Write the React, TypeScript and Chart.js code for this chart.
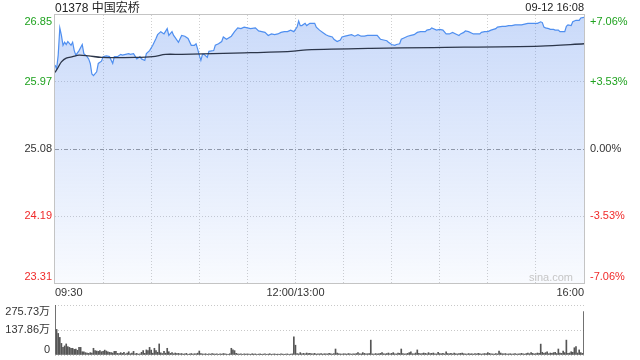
import React, { useEffect, useRef } from "react";
import { Chart, registerables } from "chart.js";

Chart.register(...registerables);

const FONT = '"Liberation Sans", Arial, "Noto Sans CJK SC", sans-serif';
const GREEN = "#1fa21f";
const RED = "#f02a2a";
const BLACK = "#333333";

const TITLE = "01378 中国宏桥";
const STAMP = "09-12 16:08";
const WATERMARK = "sina.com";

const prevClose = 25.08;
const priceTicks = [26.85, 25.97, 25.08, 24.19, 23.31];
const pctTicks = ["+7.06%", "+3.53%", "0.00%", "-3.53%", "-7.06%"];
const gridMinutes = [30, 60, 90, 120, 150, 180, 210, 240, 270, 300];
const timeTickMinutes = [0, 150, 330];
const timeTickLabels = ["09:30", "12:00/13:00", "16:00"];
const volTicks = [275.73, 137.86, 0];
const volTickLabels = ["275.73万", "137.86万", "0"];

// minutes after 09:30 (lunch break removed)
const priceMinutes = [
  0, 1, 2, 3, 4, 5, 6, 7, 8, 10,
  11, 12, 13, 15, 17, 18, 20, 21, 22, 23,
  24, 26, 27, 29, 30, 32, 34, 36, 37, 39,
  41, 42, 44, 46, 47, 49, 51, 53, 54, 56,
  57, 59, 61, 63, 64, 66, 68, 70, 71, 73,
  74, 75, 77, 79, 81, 83, 85, 87, 88, 89,
  90, 91, 92, 93, 95, 96, 99, 100, 102, 104,
  105, 107, 110, 112, 114, 116, 118, 120, 122, 125,
  127, 129, 131, 133, 135, 137, 139, 141, 143, 145,
  147, 149, 151, 152, 153, 154, 156, 157, 159, 162,
  163, 165, 167, 169, 171, 173, 174, 176, 178, 179,
  181, 183, 185, 187, 189, 191, 193, 195, 197, 199,
  201, 203, 205, 207, 208, 210, 212, 213, 215, 216,
  218, 220, 222, 224, 226, 228, 229, 231, 232, 234,
  235, 238, 240, 242, 244, 246, 248, 250, 252, 253,
  255, 256, 258, 261, 263, 265, 266, 268, 270, 272,
  275, 276, 279, 281, 283, 285, 287, 289, 291, 293,
  295, 297, 299, 301, 303, 304, 305, 306, 308, 309,
  311, 312, 314, 315, 317, 318, 319, 320, 322, 323,
  325, 327, 328, 330,
];
const prices = [
  26.19, 26.14, 26.32, 26.68, 26.58, 26.45, 26.49, 26.46, 26.50, 26.45,
  26.49, 26.38, 26.32, 26.38, 26.46, 26.34, 26.30, 26.27, 26.21, 26.07,
  26.05, 26.10, 26.21, 26.24, 26.30, 26.31, 26.30, 26.21, 26.30, 26.30,
  26.33, 26.32, 26.33, 26.34, 26.33, 26.34, 26.27, 26.30, 26.27, 26.25,
  26.34, 26.38, 26.45, 26.54, 26.59, 26.63, 26.60, 26.67, 26.58, 26.63,
  26.58, 26.55, 26.49, 26.58, 26.57, 26.54, 26.45, 26.45, 26.47, 26.40,
  26.32, 26.25, 26.33, 26.33, 26.29, 26.37, 26.38, 26.45, 26.47, 26.50,
  26.56, 26.53, 26.57, 26.63, 26.68, 26.67, 26.69, 26.68, 26.67, 26.68,
  26.64, 26.63, 26.62, 26.58, 26.60, 26.59, 26.60, 26.62, 26.63, 26.63,
  26.65, 26.63, 26.69, 26.77, 26.71, 26.71, 26.74, 26.71, 26.74, 26.74,
  26.69, 26.65, 26.62, 26.59, 26.57, 26.56, 26.53, 26.50, 26.52, 26.56,
  26.57, 26.58, 26.59, 26.57, 26.59, 26.57, 26.57, 26.58, 26.58, 26.58,
  26.58, 26.53, 26.52, 26.51, 26.49, 26.46, 26.45, 26.46, 26.47, 26.53,
  26.55, 26.57, 26.58, 26.59, 26.62, 26.63, 26.63, 26.63, 26.65, 26.66,
  26.68, 26.65, 26.66, 26.65, 26.60, 26.60, 26.62, 26.60, 26.58, 26.60,
  26.62, 26.64, 26.63, 26.60, 26.60, 26.60, 26.62, 26.63, 26.63, 26.65,
  26.67, 26.69, 26.70, 26.70, 26.71, 26.71, 26.72, 26.72, 26.72, 26.73,
  26.74, 26.74, 26.74, 26.74, 26.76, 26.75, 26.69, 26.68, 26.67, 26.66,
  26.66, 26.65, 26.65, 26.63, 26.63, 26.63, 26.70, 26.72, 26.71, 26.76,
  26.78, 26.78, 26.81, 26.82,
];

const avgMinutes = [0, 2, 4, 7, 11, 15, 21, 29, 50, 61, 69, 79, 118, 147, 157, 197, 236, 303, 330];
const avgPrices = [
  26.09, 26.16, 26.23, 26.28, 26.30, 26.32, 26.31, 26.29, 26.29, 26.30,
  26.33, 26.33, 26.35, 26.37, 26.39, 26.41, 26.42, 26.44, 26.47,
];

// volume per minute, in 万 shares (index = minute after 09:30)
const volumes = [
  275.73, 141, 119, 97, 64, 42, 50, 61, 46, 42,
  37, 37, 31, 33, 26, 42, 42, 18, 18, 13,
  11, 9, 13, 11, 37, 24, 22, 20, 24, 18,
  20, 27, 22, 18, 15, 13, 11, 20, 20, 9,
  8, 13, 9, 15, 6, 11, 18, 7, 11, 20,
  7, 9, 5, 6, 15, 24, 9, 28, 24, 42,
  27, 10, 37, 24, 15, 61, 12, 8, 20, 10,
  37, 18, 9, 13, 7, 11, 8, 9, 6, 8,
  5, 7, 9, 4, 6, 8, 5, 7, 6, 10,
  22, 8, 6, 5, 7, 4, 6, 5, 8, 6,
  5, 7, 4, 6, 5, 8, 6, 5, 4, 7,
  37, 28, 24, 9, 6, 5, 7, 4, 6, 5,
  6, 5, 4, 7, 5, 6, 4, 5, 6, 4,
  5, 6, 4, 5, 7, 4, 5, 6, 4, 5,
  4, 6, 5, 4, 5, 6, 4, 5, 6, 100,
  54, 8, 6, 13, 7, 9, 6, 11, 8, 9,
  7, 6, 9, 5, 7, 6, 8, 5, 7, 6,
  6, 9, 7, 5, 8, 33, 11, 7, 6, 5,
  7, 6, 5, 8, 6, 5, 7, 6, 8, 13,
  7, 6, 13, 9, 6, 7, 8, 82, 6, 5,
  8, 6, 7, 9, 13, 7, 6, 8, 11, 7,
  9, 13, 7, 6, 11, 9, 33, 8, 6, 7,
  9, 13, 18, 7, 6, 11, 28, 9, 7, 8,
  11, 9, 7, 13, 8, 9, 11, 7, 6, 15,
  8, 7, 9, 6, 18, 8, 7, 9, 6, 11,
  7, 6, 8, 9, 11, 7, 6, 5, 8, 6,
  7, 5, 8, 6, 9, 7, 5, 6, 8, 7,
  13, 9, 7, 6, 5, 8, 6, 22, 11, 7,
  6, 8, 5, 6, 7, 5, 6, 8, 5, 6,
  7, 9, 6, 5, 8, 11, 7, 13, 9, 6,
  8, 11, 9, 60, 15, 9, 13, 18, 7, 11,
  9, 13, 15, 8, 33, 11, 9, 22, 13, 82,
  9, 11, 18, 15, 40, 46, 11, 28, 13, 9,
  240,
];

const framePlugin = {
  id: "frame",
  afterDatasetsDraw(chart: any) {
    const { ctx, chartArea } = chart;
    ctx.save();
    ctx.strokeStyle = "#c4c4c4";
    ctx.lineWidth = 1;
    const l = Math.round(chartArea.left) - 0.5;
    const t = Math.round(chartArea.top) - 0.5;
    const r = Math.round(chartArea.right) + 0.5;
    const b = Math.round(chartArea.bottom) + 0.5;
    ctx.strokeRect(l, t, r - l, b - t);
    ctx.restore();
  },
};

const priceLabelPlugin = {
  id: "priceLabels",
  afterDraw(chart: any) {
    const { ctx, chartArea, scales } = chart;
    ctx.save();
    ctx.font = `11px ${FONT}`;
    const last = priceTicks.length - 1;
    priceTicks.forEach((v, i) => {
      const y = scales.y.getPixelForValue(v);
      ctx.fillStyle = v > prevClose ? GREEN : v < prevClose ? RED : BLACK;
      ctx.textBaseline = i === 0 ? "top" : i === last ? "bottom" : "middle";
      const yy = i === 0 ? y + 1 : i === last ? y - 1 : y;
      ctx.textAlign = "right";
      ctx.fillText(v.toFixed(2), chartArea.left - 3, yy);
      ctx.textAlign = "left";
      ctx.fillText(pctTicks[i], chartArea.right + 6, yy);
    });
    ctx.fillStyle = BLACK;
    ctx.textBaseline = "middle";
    timeTickMinutes.forEach((m, i) => {
      const x = scales.x.getPixelForValue(m);
      ctx.textAlign = i === 0 ? "left" : i === timeTickMinutes.length - 1 ? "right" : "center";
      ctx.fillText(timeTickLabels[i], x, chartArea.bottom + 10);
    });
    ctx.restore();
  },
};

const volLabelPlugin = {
  id: "volLabels",
  afterDraw(chart: any) {
    const { ctx, chartArea, scales } = chart;
    ctx.save();
    ctx.font = `11px ${FONT}`;
    ctx.fillStyle = BLACK;
    ctx.textAlign = "right";
    const last = volTicks.length - 1;
    volTicks.forEach((v, i) => {
      const y = scales.y.getPixelForValue(v);
      ctx.textBaseline = i === 0 ? "top" : i === last ? "bottom" : "middle";
      ctx.fillText(volTickLabels[i], chartArea.left - 5, i === 0 ? y + 1 : y);
    });
    ctx.restore();
  },
};

export default function App() {
  const priceRef = useRef<HTMLCanvasElement>(null);
  const volRef = useRef<HTMLCanvasElement>(null);

  useEffect(() => {
    const priceData = priceMinutes.map((m, i) => ({ x: m, y: prices[i] }));
    const avgData = avgMinutes.map((m, i) => ({ x: m, y: avgPrices[i] }));
    const innerTicks = priceTicks.filter((_, i) => i > 0 && i < priceTicks.length - 1);

    const pc = new Chart(priceRef.current as HTMLCanvasElement, {
      type: "line",
      data: {
        datasets: [
          {
            label: "均价",
            data: avgData,
            borderColor: "#2c364a",
            borderWidth: 1.3,
            pointRadius: 0,
            fill: false,
            tension: 0.3,
            order: 0,
          },
          {
            label: "价格",
            data: priceData,
            borderColor: "#4f8ff0",
            borderWidth: 1.2,
            pointRadius: 0,
            fill: "start",
            tension: 0,
            order: 1,
            backgroundColor: (c: any) => {
              const { chart } = c;
              const area = chart.chartArea;
              if (!area) return "rgba(90,145,240,0.2)";
              const g = chart.ctx.createLinearGradient(0, area.top, 0, area.bottom);
              g.addColorStop(0, "rgba(90,140,238,0.32)");
              g.addColorStop(1, "rgba(90,140,238,0.04)");
              return g;
            },
          },
        ],
      },
      options: {
        responsive: false,
        animation: false,
        layout: { padding: { left: 55, right: 56, top: 15, bottom: 17 } },
        plugins: { legend: { display: false }, tooltip: { enabled: false } },
        scales: {
          x: {
            type: "linear",
            min: 0,
            max: 330,
            ticks: { display: false },
            grid: { drawTicks: false, color: "#cfcfcf", lineWidth: 1 },
            border: { display: false, dash: [1, 2] },
            afterBuildTicks: (s: any) => {
              s.ticks = gridMinutes.map((v) => ({ value: v }));
            },
          },
          y: {
            min: priceTicks[priceTicks.length - 1],
            max: priceTicks[0],
            ticks: { display: false },
            grid: {
              drawTicks: false,
              color: (c: any) => (c.tick && c.tick.value === prevClose ? "#9a9a9a" : "#cfcfcf"),
            },
            border: {
              display: false,
              dash: (c: any) => (c.tick && c.tick.value === prevClose ? [4, 2, 1, 2] : [1, 2]),
            },
            afterBuildTicks: (s: any) => {
              s.ticks = innerTicks.map((v) => ({ value: v }));
            },
          },
        },
      },
      plugins: [framePlugin, priceLabelPlugin],
    } as any);

    const vc = new Chart(volRef.current as HTMLCanvasElement, {
      type: "bar",
      data: {
        datasets: [
          {
            label: "成交量",
            data: volumes.map((v, i) => ({ x: i, y: v })),
            backgroundColor: "#555555",
            borderWidth: 0,
            barThickness: 1,
          },
        ],
      },
      options: {
        responsive: false,
        animation: false,
        layout: { padding: { left: 55, right: 56, top: 5, bottom: 5 } },
        plugins: { legend: { display: false }, tooltip: { enabled: false } },
        scales: {
          x: {
            type: "linear",
            min: 0,
            max: 330,
            offset: false,
            ticks: { display: false },
            grid: { display: false, drawTicks: false, offset: false },
            border: { display: false },
          },
          y: {
            min: 0,
            max: volTicks[0],
            ticks: { display: false },
            grid: { drawTicks: false, color: "#c8c8c8" },
            border: { display: false, dash: [1, 2] },
            afterBuildTicks: (s: any) => {
              s.ticks = volTicks.map((v) => ({ value: v }));
            },
          },
        },
      },
      plugins: [volLabelPlugin],
    } as any);

    return () => {
      pc.destroy();
      vc.destroy();
    };
  }, []);

  const textBase: React.CSSProperties = {
    position: "absolute",
    fontFamily: FONT,
    whiteSpace: "nowrap",
    color: "#222",
  };

  return (
    <div style={{ position: "absolute", left: 0, top: 0, width: 640, height: 360, background: "#fff", overflow: "hidden" }}>
      <canvas ref={priceRef} width={640} height={300} style={{ position: "absolute", left: 0, top: 0, width: 640, height: 300 }} />
      <canvas ref={volRef} width={640} height={60} style={{ position: "absolute", left: 0, top: 300, width: 640, height: 60 }} />
      <div style={{ ...textBase, left: 55, top: 0, fontSize: 12, lineHeight: "16px" }}>{TITLE}</div>
      <div style={{ ...textBase, right: 56, top: 0, fontSize: 11, lineHeight: "15px" }}>{STAMP}</div>
      <div style={{ ...textBase, right: 67, top: 271, fontSize: 11, lineHeight: "13px", color: "#c6c6c6" }}>{WATERMARK}</div>
    </div>
  );
}
